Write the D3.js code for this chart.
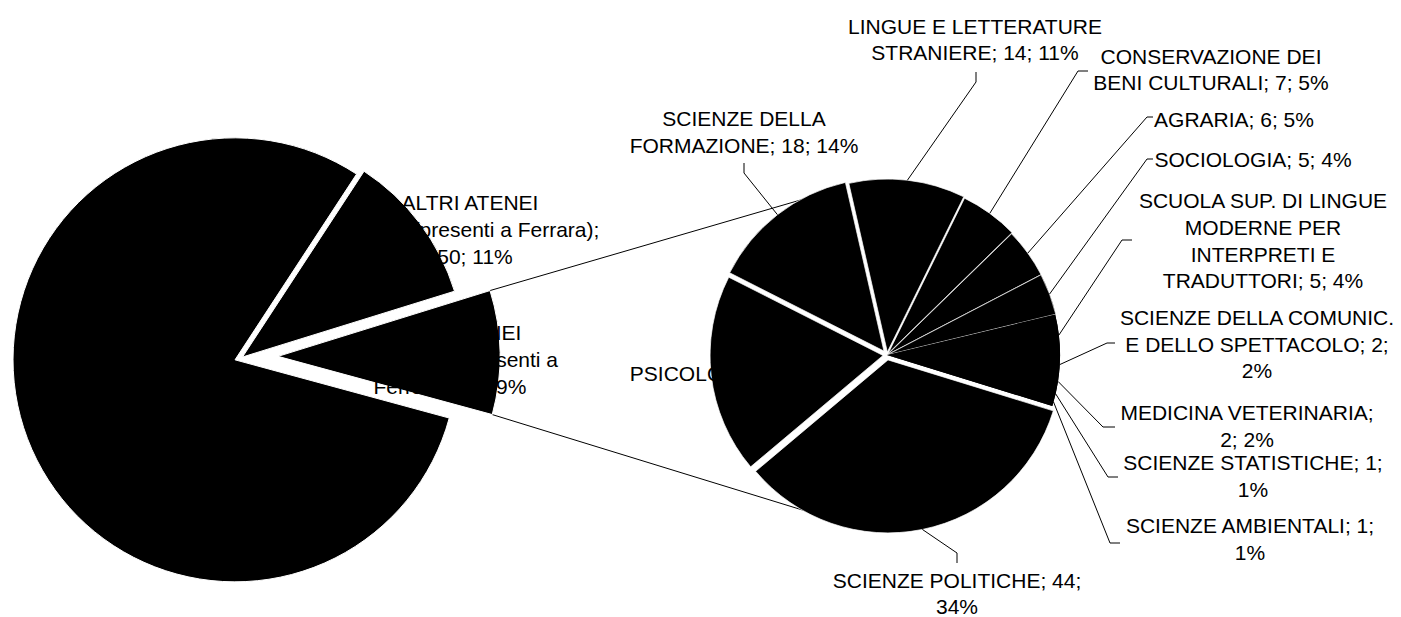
<!DOCTYPE html>
<html><head><meta charset="utf-8">
<script src="https://cdn.jsdelivr.net/npm/d3@7"></script>
<style>html,body{margin:0;padding:0;background:#fff;overflow:hidden}</style>
</head><body>
<svg id="c" width="1401" height="617"></svg>
<script>
// ---------- DATA ----------
const leftNames = ["ALTRI ATENEI (presenti a Ferrara)", "ALTRI ATENEI (non presenti a Ferrara)", "ALTRO"];
const leftValues = [50, 41, 364];
const leftPct = ["11%", "9%", "80%"];

const rightNames = ["SCIENZE DELLA FORMAZIONE", "LINGUE E LETTERATURE STRANIERE", "CONSERVAZIONE DEI BENI CULTURALI",
  "AGRARIA", "SOCIOLOGIA", "SCUOLA SUP. DI LINGUE MODERNE PER INTERPRETI E TRADUTTORI",
  "SCIENZE DELLA COMUNIC. E DELLO SPETTACOLO", "MEDICINA VETERINARIA", "SCIENZE STATISTICHE",
  "SCIENZE AMBIENTALI", "SCIENZE POLITICHE", "PSICOLOGIA"];
const rightValues = [18, 14, 7, 6, 5, 5, 2, 2, 1, 1, 44, 24];
const rightPct = ["14%", "11%", "5%", "5%", "4%", "4%", "2%", "2%", "1%", "1%", "34%", "19%"];

// ---------- LAYOUT ----------
const deg = Math.PI / 180;
const FONT = "'Liberation Sans', Arial, sans-serif";
const FS = 21, LH = 26.6;

const LP = {cx: 242.5, cy: 357, r: 222, start: 33.2, explode: [0, 35.5, 8], stroke: 1};
const RP = {cx: 887, cy: 355, r: 173, start: -63.1,
  explode: [5, 3, 2, 0.8, 0.6, 0, 0, 0, 0, 0, 5, 4],
  stroke: [0.7, 0.7, 0.7, 0.7, 0.6, 0, 0, 0, 0, 0, 0.7, 0.7]};
const seamlessGroup = [5, 9]; // slices drawn over one black underlay (no visible seams)

// label layout: words per line, line x centres, first baseline, leader stub
const leftLabelLayout = [
  {words: [2, 3, 2], xs: [470, 506, 475], y: 209.5},
  {words: [2, 3, 3], xs: [452.8, 488, 450], y: 339.5},
  null
];
const rightLabelLayout = [
  {words: [2, 3], x: 744, y: 126, stub: [[744, 163], [744, 173]]},
  {words: [3, 3], x: 975, y: 33.5, stub: [[976, 72], [976, 82]]},
  {words: [2, 4], x: 1211, y: 63.5, stub: [[1088, 71], [1078, 71]]},
  {words: [3], x: 1234, y: 126.7, stub: [[1153, 117], [1147, 117]]},
  {words: [3], x: 1253, y: 166.7, stub: [[1153, 159], [1147, 159]]},
  {words: [4, 2, 2, 3], x: 1263, y: 208.3, stub: [[1132, 240], [1122, 240]]},
  {words: [3, 4, 1], x: 1257, y: 325, stub: [[1115, 343], [1107, 343]]},
  {words: [2, 2], x: 1247, y: 420, stub: [[1115, 427], [1103, 427]]},
  {words: [3, 1], x: 1253, y: 470, stub: [[1118, 477], [1108, 477]]},
  {words: [3, 1], x: 1250, y: 533, stub: [[1120, 543], [1110, 543]]},
  {words: [3, 1], x: 957, y: 587.5, stub: [[957, 563], [957, 553]]},
  {words: [3], x: 739, y: 381, stub: null}
];

// ---------- HELPERS ----------
const svg = d3.select("#c");
function mid(a) { return (a.startAngle + a.endAngle) / 2; }
function polar(ang, d) { return [d * Math.sin(ang), -d * Math.cos(ang)]; }
function wrap(text, counts) {
  const w = text.split(" "); const out = []; let k = 0;
  counts.forEach(c => { out.push(w.slice(k, k + c).join(" ")); k += c; });
  return out;
}
function tangent(P, C, R, sign) {
  const dx = C[0] - P[0], dy = C[1] - P[1];
  const d = Math.hypot(dx, dy), phi = Math.atan2(dy, dx), al = Math.asin(R / d);
  const L = Math.sqrt(d * d - R * R), t = phi + sign * al;
  return [P[0] + L * Math.cos(t), P[1] + L * Math.sin(t)];
}

// ---------- PIES ----------
const pieL = d3.pie().sort(null).value(d => d)
  .startAngle(LP.start * deg).endAngle(LP.start * deg + 2 * Math.PI);
const arcsL = pieL(leftValues);
const arcL = d3.arc().innerRadius(0).outerRadius(LP.r);

const pieR = d3.pie().sort(null).value(d => d)
  .startAngle(RP.start * deg).endAngle(RP.start * deg + 2 * Math.PI);
const arcsR = pieR(rightValues);
const arcR = d3.arc().innerRadius(0).outerRadius(RP.r);

// connector (series) lines: tangent from exploded slice corners to secondary pie
const ex = arcsL[1];
const exOff = polar(mid(ex), LP.explode[1]);
const apex = [LP.cx + exOff[0], LP.cy + exOff[1]];
const c1 = [apex[0] + polar(ex.startAngle, LP.r)[0], apex[1] + polar(ex.startAngle, LP.r)[1]];
const c2 = [apex[0] + polar(ex.endAngle, LP.r)[0], apex[1] + polar(ex.endAngle, LP.r)[1]];
const RC = [RP.cx, RP.cy];
const t1 = tangent(c1, RC, RP.r, -1), t2 = tangent(c2, RC, RP.r, 1);
svg.append("g").selectAll("line").data([[c1, t1], [c2, t2]]).join("line")
  .attr("x1", d => d[0][0]).attr("y1", d => d[0][1])
  .attr("x2", d => d[1][0]).attr("y2", d => d[1][1])
  .attr("stroke", "#000").attr("stroke-width", 1);

// left pie slices
svg.append("g").selectAll("path").data(arcsL).join("path")
  .attr("d", arcL)
  .attr("transform", (d, i) => { const o = polar(mid(d), LP.explode[i]); return `translate(${LP.cx + o[0]},${LP.cy + o[1]})`; })
  .attr("fill", "#000").attr("stroke", "#fff").attr("stroke-width", LP.stroke)
  .attr("stroke-linejoin", "round");

// underlay for the tiny slices so that no anti-aliasing seams show between them
svg.append("path")
  .attr("d", arcR({startAngle: arcsR[seamlessGroup[0]].startAngle, endAngle: arcsR[seamlessGroup[1]].endAngle}))
  .attr("transform", `translate(${RP.cx},${RP.cy})`)
  .attr("fill", "#000");

// right pie slices
svg.append("g").selectAll("path").data(arcsR).join("path")
  .attr("d", arcR)
  .attr("transform", (d, i) => { const o = polar(mid(d), RP.explode[i]); return `translate(${RP.cx + o[0]},${RP.cy + o[1]})`; })
  .attr("fill", "#000").attr("stroke", (d, i) => RP.stroke[i] > 0 ? "#fff" : "none")
  .attr("stroke-width", (d, i) => RP.stroke[i]);

// leader lines for right pie
const leaders = svg.append("g");
arcsR.forEach((a, i) => {
  const lay = rightLabelLayout[i];
  if (!lay || !lay.stub) return;
  const o = polar(mid(a), RP.explode[i]);
  const p = polar(mid(a), RP.r);
  const end = [RP.cx + o[0] + p[0], RP.cy + o[1] + p[1]];
  leaders.append("path")
    .attr("d", d3.line()([lay.stub[0], lay.stub[1], end]))
    .attr("fill", "none").attr("stroke", "#000").attr("stroke-width", 1);
});

// labels
const labels = svg.append("g").attr("font-family", FONT).attr("font-size", FS).attr("fill", "#000");
arcsR.forEach((a, i) => {
  const lay = rightLabelLayout[i];
  const lines = wrap(`${rightNames[i]}; ${rightValues[i]}; ${rightPct[i]}`, lay.words);
  const t = labels.append("text").attr("text-anchor", "middle");
  lines.forEach((ln, k) => t.append("tspan").attr("x", lay.x).attr("y", lay.y + k * LH).text(ln));
});
arcsL.forEach((a, i) => {
  const lay = leftLabelLayout[i];
  if (!lay) return;
  const lines = wrap(`${leftNames[i]}; ${leftValues[i]}; ${leftPct[i]}`, lay.words);
  const t = labels.append("text").attr("text-anchor", "middle");
  lines.forEach((ln, k) => t.append("tspan").attr("x", lay.xs[k]).attr("y", lay.y + k * 27).text(ln));
});
</script>
</body></html>
